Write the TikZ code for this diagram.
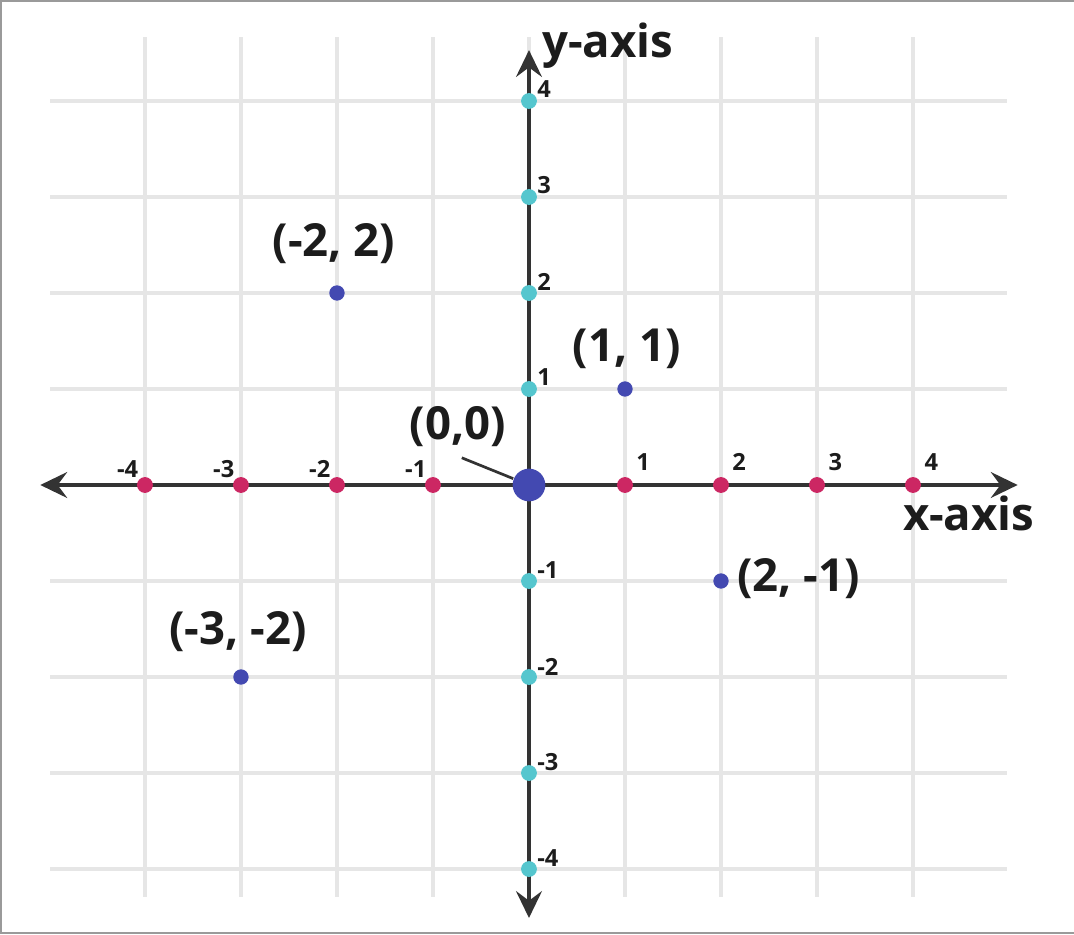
\documentclass[tikz,border=0pt]{standalone}
\usepackage{fontspec}
\setmainfont{Open Sans}
\usetikzlibrary{arrows.meta,positioning}
\definecolor{gaxis}{HTML}{333333}
\definecolor{ggrid}{HTML}{E6E6E6}
\definecolor{gframe}{HTML}{9A9A9A}
\definecolor{gtext}{HTML}{1C1C1C}
\definecolor{xred}{HTML}{CC2763}
\definecolor{ycyan}{HTML}{55C6CE}
\definecolor{pblue}{HTML}{4349B1}
\tikzset{
  gridln/.style ={draw=ggrid, line width=0.95pt},
  axis/.style   ={draw=gaxis, line width=1pt,
                  {Stealth[length=2.8mm,width=2.7mm,inset=1mm]}-{Stealth[length=2.8mm,width=2.7mm,inset=1mm]}},
  xdot/.style   ={circle, fill=xred, inner sep=0pt, minimum size=1.65mm},
  ydot/.style   ={circle, fill=ycyan, inner sep=0pt, minimum size=1.65mm},
  pdot/.style   ={circle, fill=pblue, inner sep=0pt, minimum size=1.6mm},
  odot/.style   ={circle, fill=pblue, inner sep=0pt, minimum size=3.4mm},
  tick/.style   ={font=\fontsize{7}{8}\selectfont\bfseries, text=gtext, inner sep=0pt},
  ptlbl/.style  ={font=\fontsize{13.5}{15}\selectfont\bfseries, text=gtext, inner sep=0pt},
  leader/.style ={draw=gaxis, line width=0.8pt}
}
\begin{document}
\begin{tikzpicture}
\useasboundingbox (-5.51,-4.677) rectangle (5.677,5.052);
\draw[gframe, line width=0.6pt] (5.677,5.042) -- (-5.50,5.042) -- (-5.50,-4.667) -- (5.677,-4.667);

% grid
\foreach \i in {-4,...,4} {
  \draw[gridln] (-4.99,\i) -- (4.98,\i);
  \draw[gridln] (\i,-4.29) -- (\i,4.67);
}

% axes
\coordinate (xl) at (-5.09,0);
\coordinate (xr) at (5.09,0);
\coordinate (yb) at (0,-4.51);
\coordinate (yt) at (0,4.53);
\draw[axis] (xl) -- (xr);
\draw[axis] (yb) -- (yt);

% ticks
\foreach \i in {-4,...,-1} {
  \node[xdot] (x\i) at (\i,0) {};
  \node[tick] (xt\i) at (\i-0.18,0.17) {\i};
  \node[ydot] (y\i) at (0,\i) {};
  \node[tick, anchor=west] (yt\i) at (0.08,\i+0.11) {\i};
}
\foreach \i in {1,...,4} {
  \node[xdot] (x\i) at (\i,0) {};
  \node[tick] (xt\i) at (\i+0.19,0.24) {\i};
  \node[ydot] (y\i) at (0,\i) {};
  \node[tick, anchor=west] (yt\i) at (0.08,\i+0.12) {\i};
}

% points
\node[odot] (orig) at (0,0) {};
\node[pdot] (pA) at (-2,2) {};
\node[pdot] (pB) at (1,1) {};
\node[pdot] (pC) at (2,-1) {};
\node[pdot] (pD) at (-3,-2) {};

\node[ptlbl] (lblA) at (-2.03,2.51) {(-2, 2)};
\node[ptlbl] (lblB) at (1.02,1.42) {(1, 1)};
\node[ptlbl] (lblC) at (2.81,-0.97) {(2, -1)};
\node[ptlbl] (lblD) at (-3.03,-1.53) {(-3, -2)};
\node[ptlbl] (lblO) at (-0.74,0.61) {(0,0)};
\draw[leader] ([xshift=0.4mm,yshift=-1.1mm]lblO.south) -- (orig);

\node[ptlbl] (ylbl) at (0.82,4.58) {y-axis};
\node[ptlbl] (xlbl) at (4.58,-0.30) {x-axis};
\end{tikzpicture}
\end{document}
